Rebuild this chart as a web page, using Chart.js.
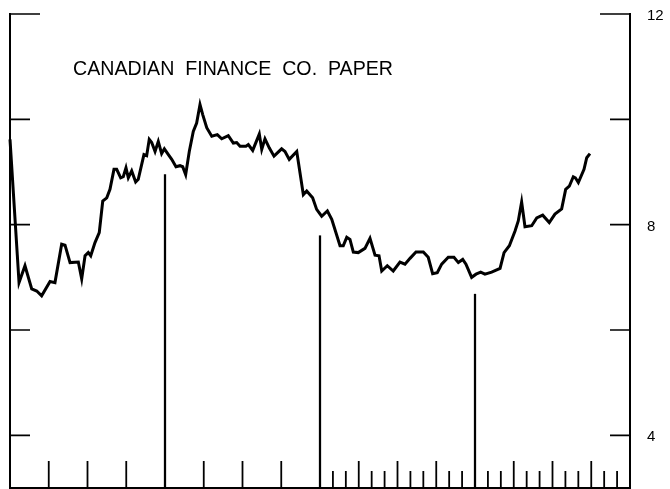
<!DOCTYPE html>
<html>
<head>
<meta charset="utf-8">
<script src="https://cdn.jsdelivr.net/npm/chart.js@4.4.0/dist/chart.umd.min.js"></script>
<style>
  html, body { margin: 0; padding: 0; background: #fff; }
  #wrap { width: 670px; height: 489px; }
</style>
</head>
<body>
<div id="wrap"><canvas id="rateChart"></canvas></div>
<script>
// months from start of the 4 year span, and rate (%)
const months = [0.0, 0.7, 1.16, 1.68, 2.07, 2.45, 3.1, 3.48, 4.0, 4.26, 4.65, 5.29, 5.55, 5.81, 6.06, 6.25,
    6.58, 6.91, 7.18, 7.49, 7.74, 8.05, 8.26, 8.57, 8.77, 8.98, 9.16, 9.42, 9.73, 9.93, 10.37, 10.58,
    10.78, 10.97, 11.23, 11.48, 11.74, 11.95, 12.26, 12.52, 12.85, 13.16, 13.37, 13.6, 13.88, 14.19,
    14.45, 14.71, 14.92, 15.23, 15.62, 16.05, 16.39, 16.9, 17.29, 17.55, 17.81, 18.27, 18.45, 18.79,
    19.3, 19.49, 19.74, 20.07, 20.44, 21.03, 21.29, 21.62, 22.2, 22.71, 22.97, 23.43, 23.74, 24.13,
    24.57, 24.91, 25.55, 25.8, 26.07, 26.32, 26.58, 26.96, 27.48, 27.87, 28.26, 28.57, 28.78, 29.21,
    29.67, 30.19, 30.58, 30.97, 31.43, 32.0, 32.38, 32.72, 33.08, 33.42, 33.93, 34.37, 34.71, 35.05,
    35.3, 35.74, 36.08, 36.44, 36.77, 37.29, 37.94, 38.25, 38.66, 39.1, 39.35, 39.61, 39.87, 40.39,
    40.78, 41.24, 41.75, 42.19, 42.71, 43.02, 43.3, 43.61, 43.77, 44.0, 44.44, 44.65, 44.9];
const rates = [9.62, 6.9, 7.22, 6.78, 6.74, 6.65, 6.92, 6.9, 7.63, 7.61, 7.28, 7.29, 6.97, 7.41, 7.47, 7.41,
    7.66, 7.85, 8.45, 8.51, 8.67, 9.05, 9.05, 8.89, 8.91, 9.08, 8.89, 9.02, 8.81, 8.86, 9.33, 9.31,
    9.62, 9.56, 9.39, 9.58, 9.35, 9.44, 9.33, 9.24, 9.1, 9.12, 9.1, 8.95, 9.39, 9.77,
    9.93, 10.28, 10.09, 9.84, 9.68, 9.71, 9.63, 9.69, 9.55, 9.56, 9.49, 9.49, 9.52, 9.41,
    9.72, 9.43, 9.63, 9.46, 9.3, 9.44, 9.39, 9.24, 9.39, 8.57, 8.64, 8.51, 8.29, 8.16,
    8.26, 8.1, 7.6, 7.6, 7.76, 7.72, 7.48, 7.47, 7.55, 7.74, 7.42, 7.41, 7.12, 7.22,
    7.12, 7.29, 7.25, 7.36, 7.48, 7.48, 7.38, 7.07, 7.09, 7.25, 7.38, 7.38, 7.28, 7.34,
    7.25, 7.0, 7.06, 7.1, 7.06, 7.1, 7.17, 7.47, 7.6, 7.88, 8.07, 8.43, 7.96, 7.98,
    8.13, 8.18, 8.04, 8.2, 8.3, 8.67, 8.73, 8.91, 8.89, 8.8, 9.05, 9.27, 9.35];

// year boundaries and the height of the rule drawn at each
const yearMonths = [12, 24, 36];
const yearRuleTops = [8.95, 7.79, 6.68];

const yTicks = [12, 10, 8, 6, 4];
const yLabels = [12, 8, 4];
const titleText = 'CANADIAN  FINANCE  CO.  PAPER';

// axes, inward ticks and the title
const framePlugin = {
    id: 'frame',
    afterDatasetsDraw(chart) {
        const c = chart.ctx;
        const xs = chart.scales.x;
        const ys = chart.scales.y;
        const left = xs.getPixelForValue(0);
        const right = xs.getPixelForValue(48);
        const top = ys.getPixelForValue(12);
        const bottom = ys.getPixelForValue(3);

        c.save();
        c.strokeStyle = '#000';
        c.lineCap = 'butt';

        c.lineWidth = 2;
        c.beginPath();
        c.moveTo(left, top - 1);
        c.lineTo(left, bottom);
        c.lineTo(right, bottom);
        c.lineTo(right, top - 1);
        c.stroke();

        c.lineWidth = 1.6;
        yTicks.forEach(v => {
            const y = ys.getPixelForValue(v);
            const len = v === 12 ? 30 : 20;
            c.beginPath();
            c.moveTo(left, y);
            c.lineTo(left + len, y);
            c.moveTo(right, y);
            c.lineTo(right - len, y);
            c.stroke();
        });

        // quarterly ticks for the first two years, monthly after that
        c.lineWidth = 1.8;
        for (let m = 1; m < 48; m++) {
            if (m % 12 === 0) continue;
            let len = 0;
            if (m < 24) {
                if (m % 3 === 0) len = 27;
            } else {
                len = m % 3 === 0 ? 27 : 17;
            }
            if (!len) continue;
            const x = xs.getPixelForValue(m);
            c.beginPath();
            c.moveTo(x, bottom);
            c.lineTo(x, bottom - len);
            c.stroke();
        }

        c.fillStyle = '#000';
        c.font = '21px "Liberation Sans", Arial, sans-serif';
        c.textBaseline = 'alphabetic';
        c.fillText(titleText, 73, 75, 320);
        c.restore();
    }
};

const ctx = document.getElementById('rateChart').getContext('2d');
const rateChart = new Chart(ctx, {
    type: 'line',
    data: {
        datasets: [{
            label: 'Rate',
            data: months.map((m, i) => ({ x: m, y: rates[i] })),
            borderColor: '#000',
            borderWidth: 3,
            pointRadius: 0,
            tension: 0,
            clip: false,
            parsing: false
        }, {
            type: 'bar',
            label: 'Year',
            data: yearMonths.map((m, i) => ({ x: m, y: [3, yearRuleTops[i]] })),
            backgroundColor: '#000',
            borderWidth: 0,
            barThickness: 1.6
        }]
    },
    options: {
        responsive: true,
        maintainAspectRatio: false,
        animation: false,
        layout: { padding: { left: 10, top: 14, bottom: 1, right: 0 } },
        plugins: {
            legend: { display: false },
            tooltip: { enabled: false }
        },
        scales: {
            x: {
                type: 'linear',
                min: 0,
                max: 48,
                display: false,
                offset: false
            },
            y: {
                position: 'right',
                min: 3,
                max: 12,
                grid: { display: false, drawTicks: false },
                border: { display: false },
                afterBuildTicks: scale => {
                    scale.ticks = yLabels.map(v => ({ value: v }));
                },
                afterFit: scale => {
                    scale.width = 40;
                    // labels may hang over the plot edges
                    scale.paddingTop = 0;
                    scale.paddingBottom = 0;
                },
                ticks: {
                    padding: 17,
                    labelOffset: 2,
                    color: '#000',
                    font: { family: 'Liberation Sans, Arial, sans-serif', size: 15 }
                }
            }
        }
    },
    plugins: [framePlugin]
});
</script>
</body>
</html>
